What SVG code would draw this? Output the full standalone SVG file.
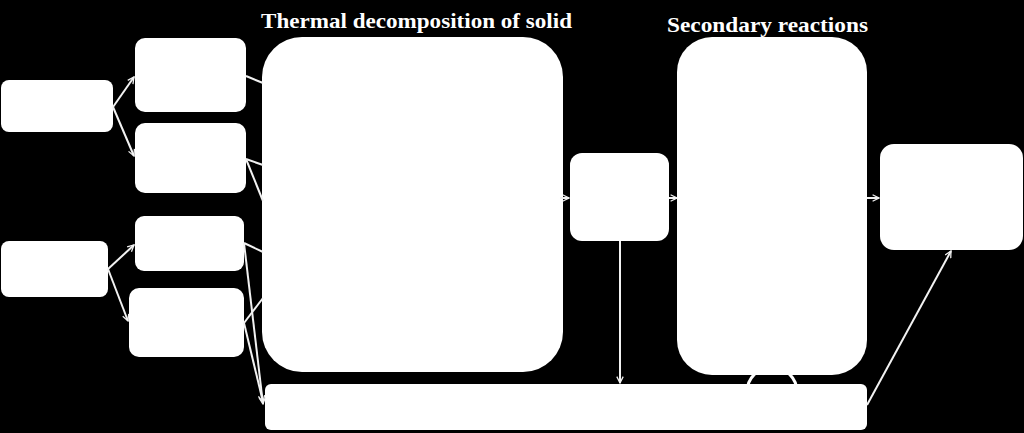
<svg xmlns="http://www.w3.org/2000/svg" width="1024" height="433" viewBox="0 0 1024 433">
<style>
.node{fill:#ffffff;}
.title{font-family:"Liberation Serif","Times New Roman",serif;font-weight:bold;font-size:22px;fill:#ffffff;}
.conn{stroke:#f2f2f2;stroke-width:2;fill:none;}
</style>
<defs>
<marker id="arr" viewBox="0 0 10 10" refX="9" refY="5" markerWidth="8" markerHeight="8" markerUnits="userSpaceOnUse" orient="auto">
<path d="M1,1 L9,5 L1,9" fill="none" stroke="#f2f2f2" stroke-width="1.6"/>
</marker>
</defs>
<rect x="0" y="0" width="1024" height="433" fill="#000000"/>
<text class="title" x="261" y="28" textLength="311" lengthAdjust="spacingAndGlyphs">Thermal decomposition of solid</text>
<text class="title" x="667" y="32" textLength="201" lengthAdjust="spacingAndGlyphs">Secondary reactions</text>
<g id="arch">
<circle cx="772" cy="392" r="25" fill="none" stroke="#ffffff" stroke-width="3"/>
</g>
<g id="A1"><rect class="node" x="1" y="80" width="112" height="52" rx="8"/></g>
<g id="A2"><rect class="node" x="1" y="241" width="107" height="56" rx="8"/></g>
<g id="B1"><rect class="node" x="135" y="38" width="111" height="74" rx="10"/></g>
<g id="B2"><rect class="node" x="135" y="123" width="111" height="70" rx="10"/></g>
<g id="B3"><rect class="node" x="135" y="216" width="109" height="55" rx="9"/></g>
<g id="B4"><rect class="node" x="129" y="288" width="115" height="69" rx="10"/></g>
<g id="T"><rect class="node" x="262" y="37" width="301" height="335" rx="40"/></g>
<g id="M"><rect class="node" x="570" y="153" width="99" height="88" rx="12"/></g>
<g id="S"><rect class="node" x="677" y="37" width="190" height="338" rx="35"/></g>
<g id="R"><rect class="node" x="880" y="144" width="143" height="106" rx="14"/></g>
<g id="Bar"><rect class="node" x="265" y="384" width="602" height="46" rx="6"/></g>
<g id="connectors">
<line class="conn" x1="113" y1="107" x2="134" y2="77" marker-end="url(#arr)"/>
<line class="conn" x1="113" y1="107" x2="134" y2="156" marker-end="url(#arr)"/>
<line class="conn" x1="108" y1="269" x2="134" y2="245" marker-end="url(#arr)"/>
<line class="conn" x1="108" y1="269" x2="128" y2="321" marker-end="url(#arr)"/>
<line class="conn" x1="246" y1="76" x2="263" y2="83"/>
<line class="conn" x1="246" y1="159" x2="263" y2="165"/>
<line class="conn" x1="246" y1="159" x2="263" y2="201"/>
<line class="conn" x1="244" y1="243" x2="263" y2="252"/>
<line class="conn" x1="244" y1="243" x2="263" y2="404" marker-end="url(#arr)"/>
<line class="conn" x1="244" y1="323" x2="263" y2="298"/>
<line class="conn" x1="244" y1="323" x2="263" y2="402" marker-end="url(#arr)"/>
<line class="conn" x1="560" y1="198" x2="569" y2="198" marker-end="url(#arr)"/>
<line class="conn" x1="669" y1="198" x2="677" y2="198" marker-end="url(#arr)"/>
<line class="conn" x1="867" y1="198" x2="879" y2="198" marker-end="url(#arr)"/>
<line class="conn" x1="620" y1="241" x2="620" y2="383" marker-end="url(#arr)"/>
<line class="conn" x1="867" y1="405" x2="951" y2="251" marker-end="url(#arr)"/>
</g>
</svg>
